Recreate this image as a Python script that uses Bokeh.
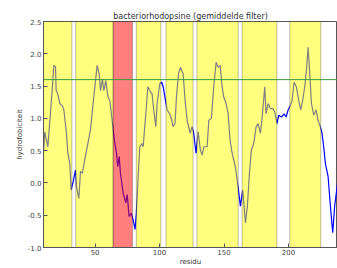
from bokeh.plotting import figure
from bokeh.models import Range1d, FixedTicker, PrintfTickFormatter, Span
from bokeh.embed import file_html
from bokeh.resources import INLINE

# residue positions and mean-filtered hydrophobicity
residu = [10, 11, 13.4, 16.7, 18, 19.3, 19.8, 21, 22.7, 24.7, 25.8, 27.8, 28.9, 30.4, 31.4, 33, 34.8,
          35.6, 37.4, 38.7, 40.2, 42, 46.4, 49, 51.6, 53.2, 54.2, 55.7, 56.8, 58.3, 60, 61.4, 63.2,
          65, 66.6, 67.6, 68.7, 69.7, 71.8, 73.8, 74.9, 76.4, 78, 79.5, 81, 82, 83.4, 84.7, 86.2,
          87.3, 88.3, 89.8, 90.9, 92.4, 94.2, 95.5, 97.1, 98.1, 100.2, 101.7, 102.8, 104.6, 105.9,
          107.9, 109.5, 110.5, 112, 113.1, 114.7, 116.2, 118.3, 119.8, 121.4, 123.7, 125.2, 126.5,
          128.3, 129.9, 131.7, 133, 134.3, 136.9, 138.2, 140.2, 142, 143.9, 145.4, 147, 148.5,
          149.8, 151.6, 153.2, 154.7, 156.3, 158.8, 160.9, 162.7, 164.5, 166.6, 168.1, 169.7,
          171.2, 173, 174.9, 176.4, 178.2, 179.5, 181.6, 182.6, 184.2, 186, 187.8, 189.3, 191.1,
          192.4, 194.5, 196.6, 198.1, 199.7, 201.5, 202.8, 204.3, 206.1, 207.9, 209.5, 211,
          212.6, 214.1, 215.2, 216.2, 217.8, 219.6, 221.4, 222.9, 224.7, 226, 227.3, 228.6,
          230.7, 232.5, 234.3, 235.8, 238]
hydrofobiciteit = [0.46, 0.79, 0.56, 1.43, 1.82, 1.80, 1.43, 1.38, 1.23, 1.19, 1.13, 0.77, 0.46, 0.30,
                   -0.11, 0.02, 0.20, -0.06, -0.24, 0.18, 0.15, 0.36, 0.82, 1.33, 1.82, 1.69, 1.43,
                   1.61, 1.43, 1.59, 1.33, 1.28, 0.97, 0.66, 0.46, 0.25, 0.41, 0.15, -0.16, -0.31,
                   -0.18, -0.52, -0.47, -0.57, -0.72, -0.47, 0.10, 0.56, 0.61, 0.56, 0.82, 1.18,
                   1.49, 1.43, 1.38, 1.13, 0.87, 1.23, 1.54, 1.56, 1.49, 1.28, 1.13, 1.07, 0.97,
                   0.87, 0.92, 1.33, 1.69, 1.79, 1.69, 1.28, 0.97, 0.77, 0.87, 0.77, 0.46, 0.79,
                   0.51, 0.43, 0.56, 0.56, 0.97, 1.00, 1.49, 1.87, 1.79, 1.82, 1.49, 1.33, 1.23,
                   1.07, 0.66, 0.46, 0.25, -0.06, -0.36, -0.11, -0.62, -0.36, 0.15, 0.51, 0.61,
                   0.87, 0.92, 0.77, 1.00, 1.49, 1.07, 1.23, 1.15, 1.15, 1.10, 0.92, 1.05, 1.02,
                   1.07, 1.02, 1.13, 1.20, 1.28, 1.56, 1.49, 1.28, 1.13, 1.28, 1.49, 1.79, 2.10,
                   1.79, 1.23, 1.05, 1.13, 0.97, 0.87, 0.77, 0.56, 0.30, 0.10, -0.36, -0.77,
                   -0.36, -0.01]

# hydrophobic segments (yellow) and highlighted segment (red)
band_start = [5, 35, 82, 105, 129, 164, 201]
band_end = [32, 64, 101, 126, 161, 191, 225]
red_start = [64]
red_end = [79]
drempel = 1.6

x_ticks = [50, 100, 150, 200]
y_ticks = [-1.0, -0.5, 0.0, 0.5, 1.0, 1.5, 2.0, 2.5]

FONT = "DejaVu Sans"

p = figure(width=337, height=268, output_backend="svg", toolbar_location=None,
           x_range=Range1d(10, 238), y_range=Range1d(-1.0, 2.5),
           title="bacteriorhodopsine (gemiddelde filter)")
p.min_border_left = 43
p.min_border_right = 0
p.min_border_top = 21
p.min_border_bottom = 0

p.title.align = "center"
p.title.text_font = FONT
p.title.text_font_size = "8px"
p.title.text_font_style = "normal"
p.title.text_color = "#333333"
p.title.standoff = 2

p.grid.visible = False
p.outline_line_color = "#555555"
p.outline_line_width = 1

# line drawn first, bands on top (as in the original)
p.line(residu, hydrofobiciteit, line_color="#0000ff", line_width=1.2)

p.quad(left=band_start, right=band_end, bottom=-1.0, top=2.5,
       fill_color="#ffff00", fill_alpha=0.5, line_color="black", line_alpha=0.25, line_width=1)
p.quad(left=red_start, right=red_end, bottom=-1.0, top=2.5,
       fill_color="#ff0000", fill_alpha=0.5, line_color="black", line_alpha=0.25, line_width=1)

p.add_layout(Span(location=drempel, dimension="width", line_color="#3a9e3a", line_width=1))

p.xaxis.ticker = FixedTicker(ticks=x_ticks)
p.yaxis.ticker = FixedTicker(ticks=y_ticks)
p.yaxis.formatter = PrintfTickFormatter(format="%.1f")
p.xaxis.axis_label = "residu"
p.yaxis.axis_label = "hydrofobiciteit"

for ax in (p.xaxis, p.yaxis):
    ax.axis_line_color = "#555555"
    ax.major_tick_in = 4
    ax.major_tick_out = 0
    ax.minor_tick_in = 0
    ax.minor_tick_out = 0
    ax.major_tick_line_color = "#555555"
    ax.major_label_text_font = FONT
    ax.major_label_text_font_size = "7px"
    ax.major_label_text_color = "#444444"
    ax.axis_label_text_font = FONT
    ax.axis_label_text_font_size = "7px"
    ax.axis_label_text_font_style = "normal"
    ax.axis_label_text_color = "#333333"
    ax.major_label_standoff = 2
    ax.axis_label_standoff = 1

p.xaxis.major_label_standoff = 1
p.xaxis.axis_label_standoff = 0

open("out.html", "w").write(file_html(p, INLINE))
